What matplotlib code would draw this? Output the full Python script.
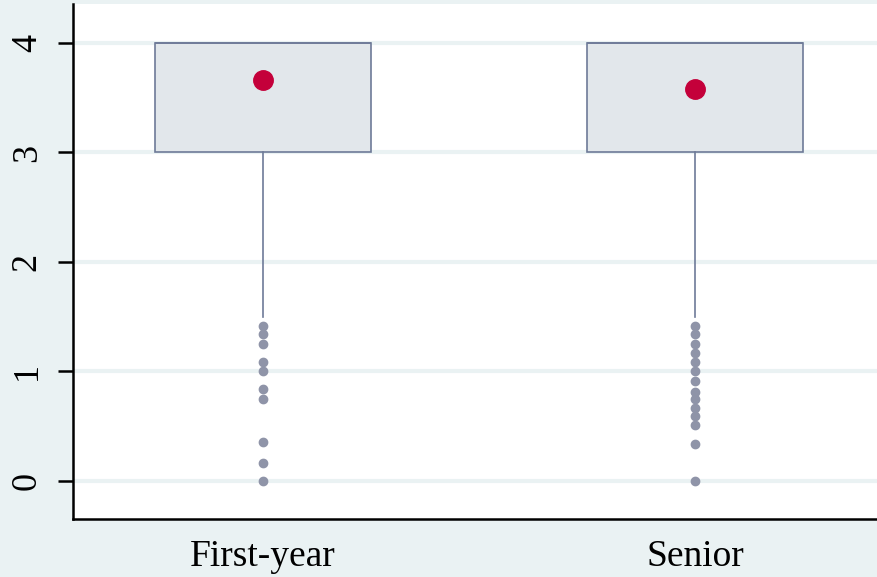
import matplotlib
matplotlib.use("Agg")
import matplotlib.pyplot as plt

categories = ["First-year", "Senior"]
q1 = [3.0, 3.0]
median = [4.0, 4.0]
q3 = [4.0, 4.0]
whisker_low = [1.5, 1.5]
whisker_high = [4.0, 4.0]
means = [3.66, 3.58]
outliers_first = [1.42, 1.34, 1.25, 1.09, 1.0, 0.84, 0.75, 0.36, 0.165, 0.0]
outliers_senior = [1.42, 1.345, 1.25, 1.165, 1.09, 1.0, 0.91, 0.81, 0.75, 0.67,
                   0.595, 0.51, 0.335, 0.0]
yticks = [0, 1, 2, 3, 4]

BG = "#EAF2F3"
BOX_FILL = "#E2E7EB"
BOX_EDGE = "#6E7A98"
MEAN_RED = "#C4003A"
FLIER = "#8F94A8"

plt.rcParams["font.family"] = ["Liberation Serif", "DejaVu Serif"]

fig = plt.figure(figsize=(8.77, 5.77), dpi=100, facecolor=BG)
ax = fig.add_axes([73 / 877, 58 / 577, 1 - 73 / 877, (519 - 4) / 577])
ax.set_facecolor("white")

fliers = [outliers_first, outliers_senior]
stats = []
for i, c in enumerate(categories):
    stats.append(dict(label=c, med=median[i], q1=q1[i], q3=q3[i],
                      whislo=whisker_low[i], whishi=whisker_high[i],
                      fliers=fliers[i], mean=means[i]))
positions = list(range(1, len(categories) + 1))

ax.bxp(stats, positions=positions, widths=0.5, patch_artist=True,
       showcaps=False, showmeans=True, meanline=False,
       boxprops=dict(facecolor=BOX_FILL, edgecolor=BOX_EDGE, linewidth=1.2),
       whiskerprops=dict(color=BOX_EDGE, linewidth=1.2),
       medianprops=dict(color=BOX_EDGE, linewidth=1.2),
       flierprops=dict(marker="o", markerfacecolor=FLIER, markeredgecolor=FLIER,
                       markersize=6, linestyle="none"),
       meanprops=dict(marker="o", markerfacecolor=MEAN_RED,
                      markeredgecolor=MEAN_RED, markersize=14),
       zorder=3)

ax.set_xlim(0.56, 2.421)
ax.set_ylim(-0.347, 4.356)
ax.set_yticks(yticks)
ax.set_yticklabels([str(t) for t in yticks], rotation=90, va="center")
ax.set_xticks(positions)
ax.set_xticklabels(categories)
ax.grid(axis="y", color=BG, linewidth=3, zorder=0)
ax.set_axisbelow(True)

for s in ["top", "right"]:
    ax.spines[s].set_visible(False)
for s in ["left", "bottom"]:
    ax.spines[s].set_linewidth(1.8)
    ax.spines[s].set_color("black")

ax.tick_params(axis="y", length=11, width=1.8, pad=10, labelsize=26)
ax.tick_params(axis="x", length=0, pad=15, labelsize=27)

fig.savefig("out.png", dpi=100, facecolor=BG)
